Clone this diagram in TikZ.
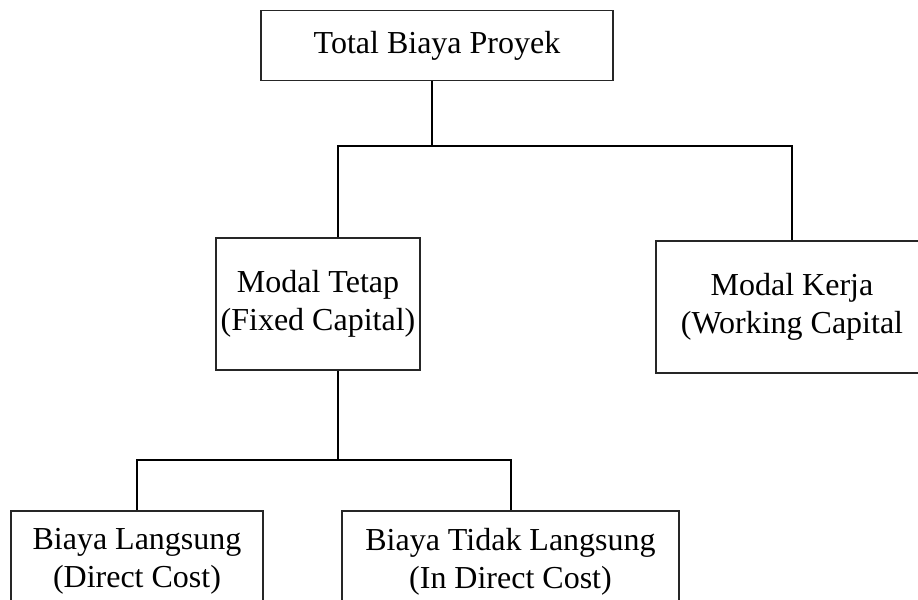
\documentclass[tikz,border=0pt]{standalone}
\usepackage{fontspec}
\setmainfont{Liberation Serif}
\usetikzlibrary{calc}

\begin{document}
\begin{tikzpicture}[x=0.5pt,y=-0.5pt,
  box/.style={draw=black!85,line width=0.6pt,fill=white,inner sep=0pt,align=center,
    font=\fontsize{16}{19}\selectfont},
  link/.style={line width=1pt,color=black}]
\clip (0,0) rectangle (918,600);
\fill[white] (0,0) rectangle (918,600);

\coordinate (bus1) at (432,146);
\coordinate (bus2) at (0,460);

\node[box,minimum width=176pt,minimum height=35pt] (total) at (437,45.7) {Total Biaya Proyek};
\node[box,minimum width=102pt,minimum height=66pt] (tetap) at (318,304) {Modal Tetap\\(Fixed Capital)};
\node[box,minimum width=136pt,minimum height=66pt] (kerja) at (792,307) {Modal Kerja\\(Working Capital};
\node[box,minimum width=126pt,minimum height=50.5pt] (langsung) at (137,561.5) {Biaya Langsung\\(Direct Cost)};
\node[box,minimum width=168.5pt,minimum height=50.5pt] (tidak) at (510.5,561.5) {Biaya Tidak Langsung\\(In Direct Cost)};

\draw[link] (total.south -| bus1) -- (bus1);
\draw[link] ([xshift=10pt]tetap.north) |- (kerja.north |- bus1) -- (kerja.north);
\draw[link] ([xshift=10pt]tetap.south) -- ([xshift=10pt]tetap.south |- bus2);
\draw[link] (langsung.north) |- (tidak.north |- bus2) -- (tidak.north);
\end{tikzpicture}
\end{document}
